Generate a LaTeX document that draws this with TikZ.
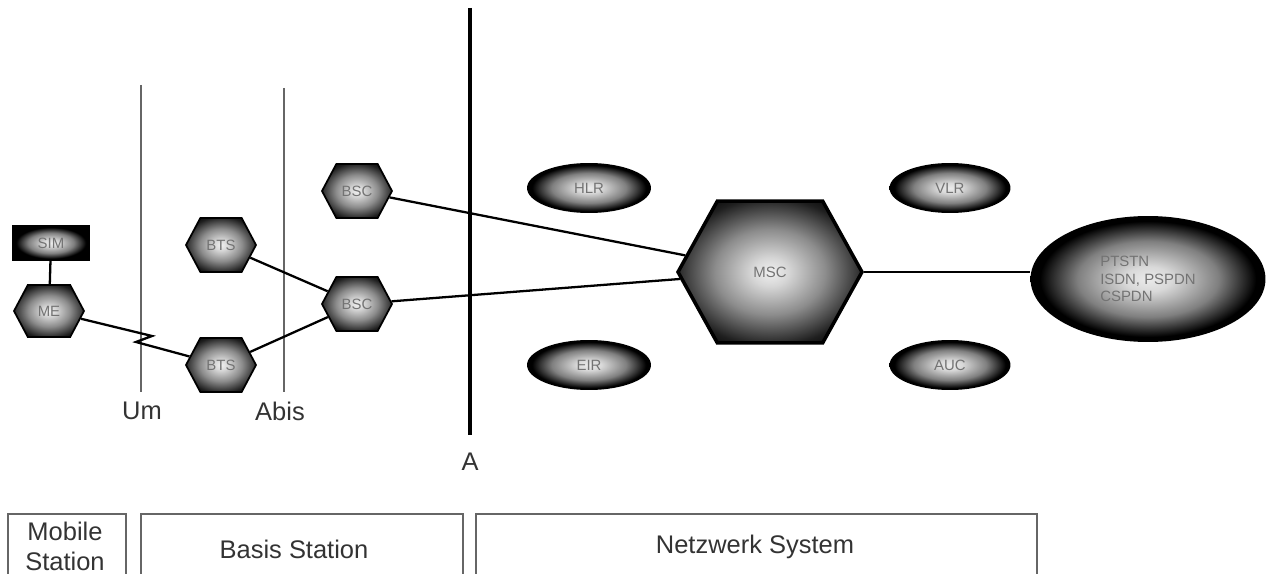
\documentclass[tikz,border=0pt]{standalone}
\usepackage{fontspec}
\setmainfont{Liberation Sans}
\usetikzlibrary{shapes.geometric,shapes.symbols}
\pgfdeclareradialshading{ellshade}{\pgfpoint{0bp}{0bp}}{color(0bp)=(white!92!black); color(5bp)=(white!85!black); color(15bp)=(black!50); color(23bp)=(black); color(50bp)=(black)}
\pgfdeclareradialshading{hexshade}{\pgfpoint{0bp}{0bp}}{color(0bp)=(white!94!black); color(5bp)=(white!84!black); color(15bp)=(black!45); color(26bp)=(black!88); color(32bp)=(black); color(50bp)=(black)}
\begin{document}
\begin{tikzpicture}[x=0.02cm,y=-0.02cm,
  hexnode/.style={shape=signal, signal to=west and east, signal pointer angle=124,
    draw=black, line width=1pt, shading=hexshade, inner sep=0pt,
    minimum width=1.4cm, minimum height=1.08cm,
    font=\fontsize{8.5}{10}\selectfont, text=black!55},
  ellnode/.style={ellipse, shading=ellshade, inner sep=0pt,
    minimum width=2.48cm, minimum height=1.0cm,
    font=\fontsize{8.5}{10}\selectfont, text=black!55},
  link/.style={draw=black, line width=1.3pt},
  iface/.style={draw=black!60, line width=0.9pt},
  lbl/.style={font=\fontsize{14.5}{17}\selectfont, text=black!80, inner sep=0pt},
  region/.style={draw=black!60, line width=0.8pt}]
\useasboundingbox (0,0) rectangle (1269,574);

% interface lines and labels
\node[lbl] (um) at (142,411) {Um};
\node[lbl] (abis) at (280,411) {Abis};
\node[lbl] (a) at (470,462) {A};
\coordinate (umtop) at (141,85);
\coordinate (abistop) at (284,88);
\coordinate (atop) at (470,8);
\coordinate (umbot) at (141,392);
\coordinate (abisbot) at (284,392);
\coordinate (abot) at (470,435);
\draw[iface] (umtop) -- (umbot);
\draw[iface] (abistop) -- (abisbot);
\draw[draw=black, line width=2.4pt] (atop) -- (abot);

% nodes
\node[rectangle, draw=black, line width=1pt, shading=ellshade, inner sep=0pt,
  minimum width=1.52cm, minimum height=0.68cm,
  font=\fontsize{8.5}{10}\selectfont, text=black!55] (sim) at (51,243) {SIM};
\node[hexnode, minimum height=1.04cm] (me) at (49,311) {ME};
\node[hexnode] (bts1) at (221,245) {BTS};
\node[hexnode] (bts2) at (221,365) {BTS};
\node[hexnode] (bsc1) at (357,191) {BSC};
\node[hexnode] (bsc2) at (357,304) {BSC};
\node[hexnode, line width=2pt, signal pointer angle=122, minimum width=3.68cm, minimum height=2.84cm] (msc) at (770,272) {MSC};
\node[ellnode] (hlr) at (589,188) {HLR};
\node[ellnode] (eir) at (589,365) {EIR};
\node[ellnode, minimum width=2.42cm] (vlr) at (950,188) {VLR};
\node[ellnode, minimum width=2.42cm] (auc) at (950,365) {AUC};
\node[ellnode, minimum width=4.7cm, minimum height=2.52cm, align=left] (pstn) at (1148,279) {PTSTN\\ISDN, PSPDN\\CSPDN};

% connectors
\coordinate (j1) at (152,336);
\coordinate (j2) at (136,342);
\draw[link] (sim) -- (me);
\draw[link] (me) -- (j1) -- (j2) -- (bts2);
\draw[link] (bts1) -- (bsc2);
\draw[link] (bts2) -- (bsc2);
\draw[link] (bsc1) -- (msc);
\draw[link] (bsc2) -- (msc);
\draw[link] (msc.east) -- (pstn.west |- msc.east);

% bottom regions
\draw[region] (8,576) -- (8,514) -- (126,514) -- (126,576);
\draw[region] (141,576) -- (141,514) -- (463,514) -- (463,576);
\draw[region] (476,576) -- (476,514) -- (1037,514) -- (1037,576);
\node[lbl, align=center] (ms) at (65,546) {Mobile\\Station};
\node[lbl] (bs) at (294,549) {Basis Station};
\node[lbl] (ns) at (755,547) {Netzwerk System};
\end{tikzpicture}
\end{document}
